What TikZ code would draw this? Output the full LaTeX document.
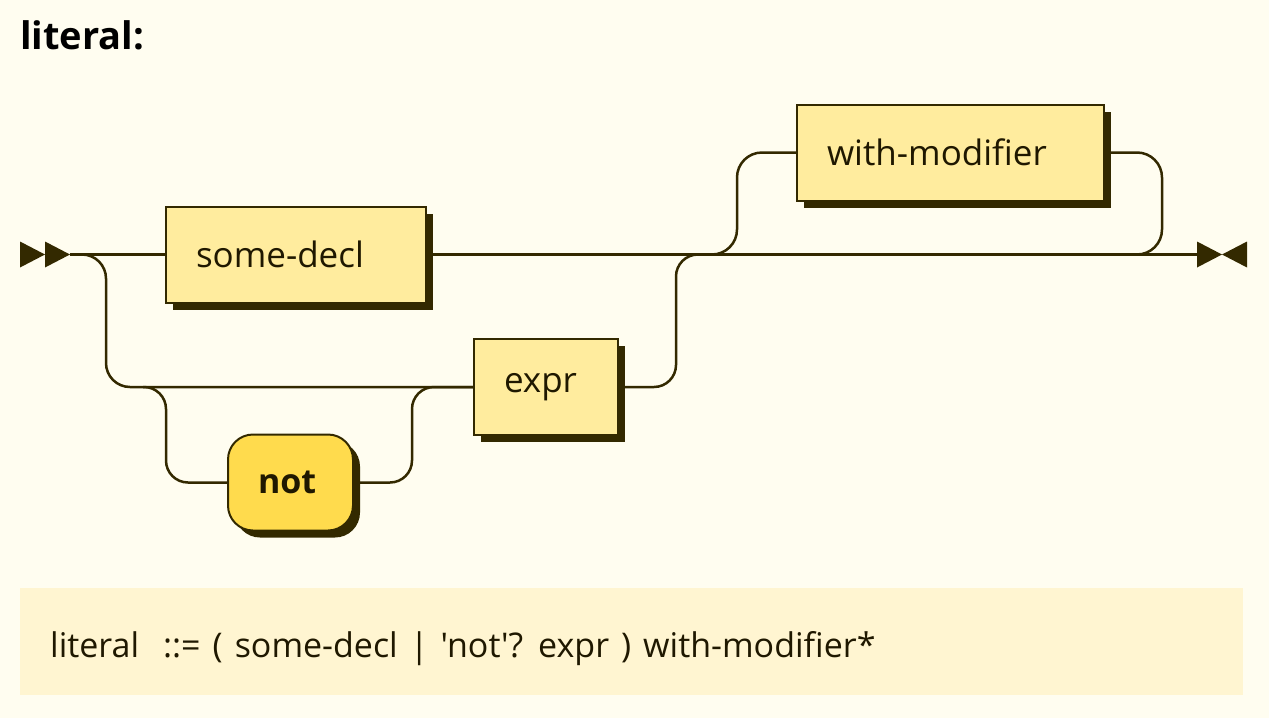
\documentclass[tikz,border=0pt]{standalone}
\usepackage{fontspec}
\setmainfont{Open Sans}
\newfontfamily\ebnffont{Open Sans}
\usepackage{xcolor}
\usepackage{tikz}
\usetikzlibrary{shadows}

\definecolor{rrdark}{HTML}{332900}
\definecolor{rrbg}{HTML}{FFFDF0}
\definecolor{rrbox}{HTML}{FFEC9E}
\definecolor{rrterm}{HTML}{FFDB4D}
\definecolor{rrebnf}{HTML}{FFF5D1}

\tikzset{
  rrline/.style={draw=rrdark, line width=2.5pt},
  nonterm/.style={draw=rrdark, line width=2pt, fill=rrbox, anchor=west,
    minimum height=96pt, inner xsep=30pt, align=left, text=rrdark!60!black,
    font=\fontsize{35}{40}\selectfont,
    drop shadow={shadow xshift=7pt, shadow yshift=-7pt, fill=rrdark, opacity=1}},
  term/.style={nonterm, fill=rrterm, rounded corners=25pt,
    font=\fontsize{34}{40}\selectfont\bfseries},
  tip/.style={fill=rrdark}
}

\begin{document}
\begin{tikzpicture}[x=1pt, y=-1pt]
\useasboundingbox[fill=rrbg] (0,0) rectangle (1269,718);

\node[anchor=base west, inner sep=0pt, font=\fontsize{38}{44}\selectfont\bfseries] (title) at (20,49) {literal:};

% boxes
\node[nonterm, text width=200pt] (decl) at (165,254.5) {some-decl};
\node[nonterm, text width=84pt] (expr) at (473,387) {expr};
\node[nonterm, text width=247pt] (modif) at (796,152.5) {with-modifier};
\node[term, text width=65pt] (notkw) at (227,482.5) {not};

% start and end
\coordinate (start) at (70,254.5);
\coordinate (end) at (1197,254.5);
\fill[tip] (20,241.5) -- (45,254.5) -- (20,267.5) -- cycle;
\fill[tip] (45,241.5) -- (start) -- (45,267.5) -- cycle;
\fill[tip] (end) ++(0,-13) -- ++(25,13) -- ++(25,-13) -- ++(0,26) -- ++(-25,-13) -- ++(-25,13) -- cycle;

% tracks
\draw[rrline] (start) -- (decl.west);
\draw[rrline] (decl.east) -- (end);
\draw[rrline, rounded corners=24pt] (start) -| (106,387) -- (expr.west);
\draw[rrline, rounded corners=22pt] (143,387) -| (166,482.5) -- (notkw.west);
\draw[rrline, rounded corners=22pt] (notkw.east) -| (412,387) -- (expr.west);
\draw[rrline, rounded corners=22pt] (expr.east) -| (676,254.5) -- (700,254.5);
\draw[rrline, rounded corners=25pt] (712,254.5) -| (737,152.5) -- (modif.west);
\draw[rrline, rounded corners=25pt] (modif.east) -| (1162,254.5) -- (1137,254.5);

% grammar
\fill[rrebnf] (20,588) rectangle (1243,695);
\node[anchor=base west, inner sep=0pt, text=rrdark!60!black, font=\ebnffont\fontsize{34}{40}\selectfont] (ebnf) at (50,657)
  {\spaceskip=12pt\relax literal\ \ ::= ( some-decl | 'not'? expr ) with-modifier*};
\end{tikzpicture}
\end{document}
